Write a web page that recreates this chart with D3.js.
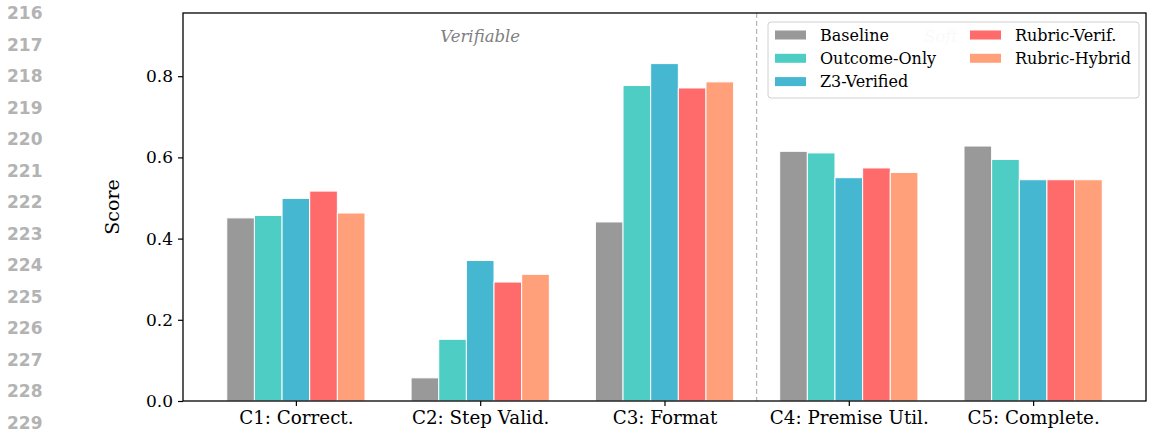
<!DOCTYPE html>
<html lang="en">
<head>
<meta charset="utf-8">
<title>Scores by criterion</title>
<script src="https://cdn.jsdelivr.net/npm/d3@7"></script>
<style>
  body { margin: 0; background: #fff; }
  svg { display: block; }
  .tick text { font-family: "DejaVu Serif", serif; font-size: 17px; fill: #000; }
  .xaxis .tick text { font-size: 18.3px; }
  .lineno { font-family: "DejaVu Sans", sans-serif; font-weight: bold; font-size: 17px; fill: #b3b3b3; }
</style>
</head>
<body>
<script>
// data
const categories = ["C1: Correct.", "C2: Step Valid.", "C3: Format", "C4: Premise Util.", "C5: Complete."];
const methods = ["Baseline", "Outcome-Only", "Z3-Verified", "Rubric-Verif.", "Rubric-Hybrid"];
const colors = ["#999999", "#4ECDC4", "#45B7D1", "#FF6B6B", "#FFA07A"];
const baseline     = [0.451, 0.057, 0.441, 0.615, 0.628];
const outcomeOnly  = [0.457, 0.152, 0.777, 0.611, 0.595];
const z3Verified   = [0.499, 0.346, 0.831, 0.550, 0.545];
const rubricVerif  = [0.517, 0.293, 0.771, 0.574, 0.545];
const rubricHybrid = [0.463, 0.312, 0.786, 0.563, 0.545];
const yTicks = [0.0, 0.2, 0.4, 0.6, 0.8];
const lineNumbers = d3.range(216, 230);

const series = [baseline, outcomeOnly, z3Verified, rubricVerif, rubricHybrid];

const W = 1149, H = 435;
const plotL = 183, plotR = 1146, plotT = 13, plotB = 401;
const barW = 0.15;

const svg = d3.select("body").append("svg")
    .attr("width", W)
    .attr("height", H);

// page line numbers down the left margin
svg.selectAll("text.lineno")
    .data(lineNumbers)
    .enter()
    .append("text")
    .attr("class", "lineno")
    .attr("x", 7)
    .attr("y", (d, i) => 13 + i * 31.5)
    .attr("dy", "0.36em")
    .text(d => d);

const x = d3.scaleLinear()
    .domain([-0.6125, 4.6125])
    .range([plotL, plotR]);

const ymax = d3.max(series.flat()) * 1.15;
const y = d3.scaleLinear()
    .domain([0, ymax])
    .range([plotB, plotT]);

// section labels (Soft sits under the legend)
svg.append("text")
    .attr("x", x(1)).attr("y", 36).attr("dy", "0.35em")
    .attr("text-anchor", "middle")
    .attr("font-family", "DejaVu Serif, serif")
    .attr("font-style", "italic")
    .attr("font-size", 16.5)
    .attr("fill", "#808080")
    .text("Verifiable");
svg.append("text")
    .attr("x", x(3.5)).attr("y", 36).attr("dy", "0.35em")
    .attr("text-anchor", "middle")
    .attr("font-family", "DejaVu Serif, serif")
    .attr("font-style", "italic")
    .attr("font-size", 16.5)
    .attr("fill", "#808080")
    .text("Soft");

// bars
series.forEach((vals, i) => {
    svg.append("g")
        .selectAll("rect")
        .data(vals)
        .enter()
        .append("rect")
        .attr("x", (d, j) => x(j + (i - 2) * barW - barW / 2))
        .attr("width", x(barW) - x(0))
        .attr("y", d => y(d))
        .attr("height", d => y(0) - y(d))
        .attr("fill", colors[i])
        .attr("stroke", "#fff")
        .attr("stroke-width", 1);
});

// divider between verifiable and soft criteria
svg.append("line")
    .attr("x1", x(2.5)).attr("x2", x(2.5))
    .attr("y1", plotT).attr("y2", plotB)
    .attr("stroke", "#808080")
    .attr("stroke-opacity", 0.6)
    .attr("stroke-width", 1.2)
    .attr("stroke-dasharray", "5,3");

// axes
const xAxis = svg.append("g")
    .attr("class", "xaxis")
    .attr("transform", `translate(0,${plotB})`)
    .call(d3.axisBottom(x)
        .tickValues(d3.range(categories.length))
        .tickFormat(i => categories[i])
        .tickSize(5)
        .tickPadding(5));
const yAxis = svg.append("g")
    .attr("transform", `translate(${plotL},0)`)
    .call(d3.axisLeft(y)
        .tickValues(yTicks)
        .tickFormat(d3.format(".1f"))
        .tickSize(5)
        .tickPadding(5));
[xAxis, yAxis].forEach(g => {
    g.select(".domain").remove();
    g.selectAll(".tick line").attr("stroke", "#000").attr("stroke-width", 1.2);
});

// frame
svg.append("rect")
    .attr("x", plotL).attr("y", plotT)
    .attr("width", plotR - plotL).attr("height", plotB - plotT)
    .attr("fill", "none")
    .attr("stroke", "#000")
    .attr("stroke-width", 1.3);

svg.append("text")
    .attr("transform", `translate(119,${(plotT + plotB) / 2}) rotate(-90)`)
    .attr("text-anchor", "middle")
    .attr("font-family", "DejaVu Serif, serif")
    .attr("font-size", 19)
    .text("Score");

// legend, two columns
const lg = svg.append("g");
lg.append("rect")
    .attr("x", 768).attr("y", 22)
    .attr("width", 371).attr("height", 76)
    .attr("rx", 3)
    .attr("fill", "#fff")
    .attr("fill-opacity", 0.95)
    .attr("stroke", "#d0d0d0");
const items = lg.selectAll("g.item")
    .data(methods)
    .enter()
    .append("g")
    .attr("class", "item")
    .attr("transform", (d, i) => {
        const col = i < 3 ? 0 : 1;
        const row = i < 3 ? i : i - 3;
        return `translate(${775 + col * 195},${35 + row * 23.3})`;
    });
items.append("rect")
    .attr("x", 0).attr("y", -4.5)
    .attr("width", 31).attr("height", 9)
    .attr("fill", (d, i) => colors[i]);
items.append("text")
    .attr("x", 45).attr("dy", "0.36em")
    .attr("font-family", "DejaVu Serif, serif")
    .attr("font-size", 16)
    .text(d => d);
</script>
</body>
</html>
